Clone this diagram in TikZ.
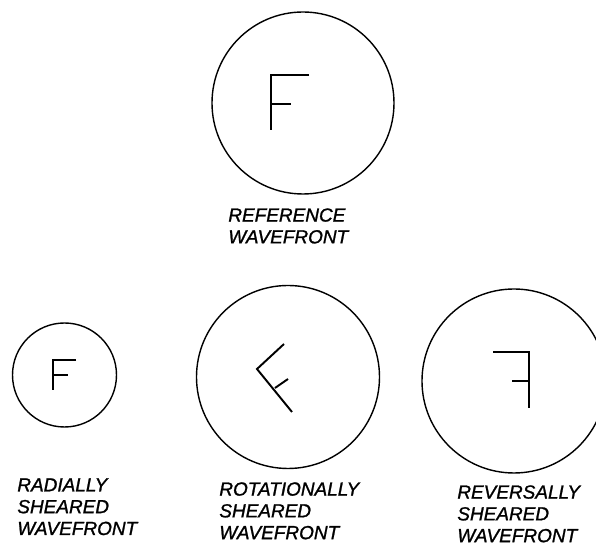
\documentclass[tikz,border=0pt]{standalone}
\usepackage{fontspec}
\setmainfont{Liberation Sans}
\newfontfamily\capfont[FakeBold=1.2]{Liberation Sans}
\usetikzlibrary{positioning}

\tikzset{
  front/.style={draw,circle,line width=0.8pt,inner sep=0pt},
  glyph/.style={line width=1.1pt},
  caption/.style={anchor=north west,align=left,inner sep=0pt,
    font=\capfont\fontsize{10.8}{12.4}\selectfont\itshape}
}

\begin{document}
\begin{tikzpicture}[x=0.02cm,y=-0.02cm]
  \useasboundingbox (0,0) rectangle (596,546);
  \begin{scope}
  \clip (0,0) rectangle (596,546);
  % wavefronts
  \node[front,minimum size=182*0.02cm] (ref) at (303,103) {};
  \node[front,minimum size=104*0.02cm] (radial) at (64.5,375) {};
  \node[front,minimum size=183*0.02cm] (rot) at (288,377) {};
  \node[front,minimum size=184*0.02cm] (rev) at (514,381) {};
  \end{scope}

  % the letter in each wavefront
  \draw[glyph] (309,75) -- (271,75) -- (271,130);
  \draw[glyph] (271,104) -- (291,104);
  \draw[glyph] (76,360) -- (53,360) -- (53,390);
  \draw[glyph] (53,375) -- (68,375);
  \draw[glyph] (284,344) -- (257,369) -- (292,412);
  \draw[glyph] (275,388) -- (288,379);
  \draw[glyph] (493,352) -- (529,352) -- (529,408);
  \draw[glyph] (529,381) -- (512,381);

  % captions
  \node[caption] (refcap) at (228,208) {REFERENCE\\WAVEFRONT};
  \node[caption] (radcap) at (17,478) {RADIALLY\\SHEARED\\WAVEFRONT};
  \node[caption] (rotcap) at (219,482) {ROTATIONALLY\\SHEARED\\WAVEFRONT};
  \node[caption] (revcap) at (457,485) {REVERSALLY\\SHEARED\\WAVEFRONT};
\end{tikzpicture}
\end{document}
